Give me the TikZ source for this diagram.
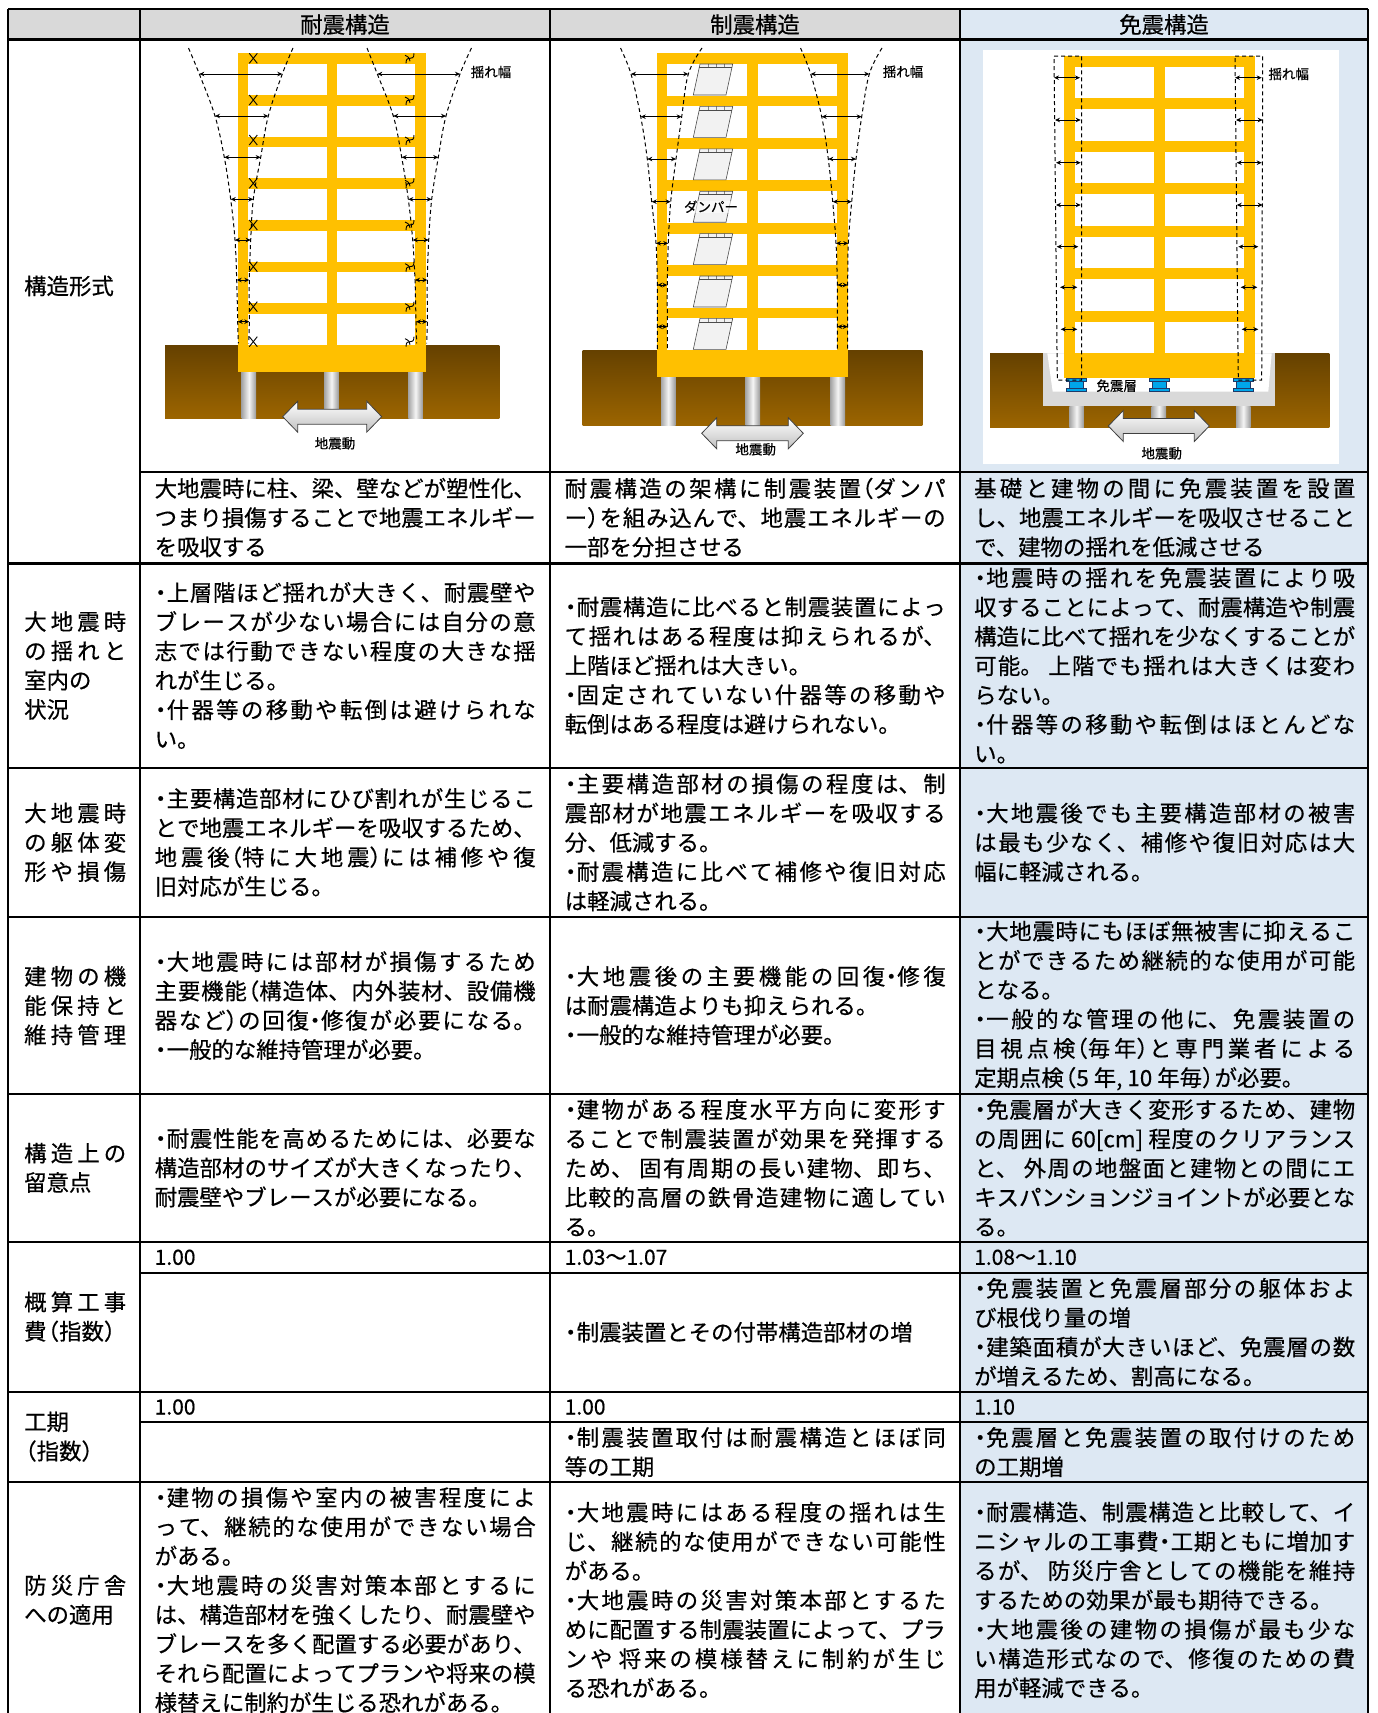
\documentclass[tikz,border=0pt]{standalone}
\usepackage{fontspec}
\setmainfont{Noto Sans CJK JP}[FakeBold=0.5]
\usetikzlibrary{arrows.meta}
\XeTeXlinebreaklocale "ja"
\XeTeXlinebreakskip=0pt plus 6pt minus 0.4pt
\definecolor{hdr}{HTML}{D9D9D9}
\definecolor{bluecol}{HTML}{DDE8F3}
\definecolor{ylw}{HTML}{FFC000}
\definecolor{brtop}{HTML}{654100}
\definecolor{brbot}{HTML}{9C6500}
\definecolor{isob}{HTML}{00A6EA}
\definecolor{ison}{HTML}{1F3A68}
\definecolor{pitgray}{HTML}{D9D9D9}
\newcommand{\jbr}{\linebreak}
\newcommand{\bul}{\makebox[12pt][c]{・}}
\newcommand{\lpar}{\makebox[12.5pt][r]{（}}
\newcommand{\rpar}{\makebox[12.5pt][l]{）}}
\newcommand{\spfour}[4]{\makebox[102pt][s]{#1\hfill#2\hfill#3\hfill#4}}
% building frame: #1 L, #2 R, #3 top, #4 slab top, #5 slab bottom, #6 centre column left
\newcommand{\frameb}[6]{%
  \fill[ylw] (#1,#3) rectangle (#2,#5);
  \pgfmathsetmacro{\pp}{(#4-#3)/7}%
  \foreach \k in {0,...,6}{%
    \pgfmathsetmacro{\wt}{#3+\k*\pp+10.7}%
    \pgfmathsetmacro{\wb}{#3+(\k+1)*\pp}%
    \fill[white] ({#1+10.7},\wt) rectangle (#6,\wb);
    \fill[white] ({#6+10.7},\wt) rectangle ({#2-10.7},\wb);
  }%
}
% big double arrow: #1 left x, #2 right x, #3 centre y
\newcommand{\bigarrow}[3]{%
  \shade[top color=white, bottom color=gray!50, draw=black!75, line width=0.8pt]
   (#1,#3) -- ({#1+15},{#3-15.5}) -- ({#1+15},{#3-7.5}) -- ({#2-15},{#3-7.5})
   -- ({#2-15},{#3-15.5}) -- (#2,#3) -- ({#2-15},{#3+15.5}) -- ({#2-15},{#3+7.5})
   -- ({#1+15},{#3+7.5}) -- ({#1+15},{#3+15.5}) -- cycle;
}
\newcommand{\pile}[3]{% x, top, bottom
  \shade[left color=gray!70, right color=gray!80, middle color=gray!8] (#1,#2) rectangle ({#1+14.5},#3);
}
\newcommand{\crkL}[2]{\begin{scope}[shift={(#1,#2)}]
  \draw[crack] (-4,-5) .. controls (0,0) .. (4,5);
  \draw[crack] (4,-5) .. controls (0,0) .. (-4,5);\end{scope}}
\newcommand{\crkR}[2]{\begin{scope}[shift={(#1,#2)}]
  \draw[crack] (-4,5) .. controls (-4,-5) and (4,5) .. (4,-5);
  \draw[crack] (-5,-3) .. controls (-1,-1) .. (0,3);\end{scope}}
\newcommand{\isol}[1]{%
  \filldraw[fill=isob, draw=ison, line width=0.7pt] (#1,378.3) rectangle ({#1+20},381.8);
  \filldraw[fill=isob, draw=ison, line width=0.7pt] ({#1+3},381.8) rectangle ({#1+17},388.3);
  \filldraw[fill=isob, draw=ison, line width=0.7pt] (#1,388.3) rectangle ({#1+20},391.7);
}
\begin{document}
\begin{tikzpicture}[x=1pt, y=-1pt,
  grid/.style={line width=2.2pt, black},
  cell/.style={anchor=west, inner sep=0pt, text width=381pt, align=justify, font={\fontsize{22.4pt}{29.3pt}\selectfont}},
  lab/.style={anchor=west, inner sep=0pt, align=left, font={\fontsize{22.4pt}{29.3pt}\selectfont}},
  hd/.style={inner sep=0pt, font={\fontsize{22.4pt}{26pt}\selectfont}},
  val/.style={anchor=west, inner sep=0pt, font={\fontsize{21pt}{26pt}\selectfont}},
  small/.style={inner sep=0pt, font={\fontsize{13.5pt}{15pt}\selectfont}},
  env/.style={dashed, dash pattern=on 4pt off 3pt, line width=1pt},
  sway/.style={<->, >={Stealth[length=5pt,width=4.5pt]}, line width=1pt},
  crack/.style={line width=0.9pt},
  damper/.style={fill=gray!10, draw=black!70, line width=0.6pt}]
\useasboundingbox (0,0) rectangle (1378,1713);
\clip (0,0) rectangle (1378,1713);
\fill[white] (0,0) rectangle (1378,1713);
% ---------- table fills
\fill[hdr] (8,9) rectangle (960,39.5);
\fill[bluecol] (960,9) rectangle (1368,1720);
\fill[white] (982.7,50) rectangle (1339,464);

% ---------- picture 1 : 耐震構造
\shade[top color=brtop, bottom color=brbot] (165,345) rectangle (499.3,418.3);
\pile{241.7}{371.7}{418.3}\pile{324.3}{371.7}{418.3}\pile{408.3}{371.7}{418.3}
\frameb{237.7}{425.7}{53.3}{345}{371.7}{326.7}
\draw[env] plot[smooth, tension=0.6] coordinates {(188.5,48) (199.3,74) (215,116) (224.3,157.3) (230.7,199.3) (235,240) (236.7,280) (237.7,321.7) (238.3,343.3)};
\draw[env] plot[smooth, tension=0.6] coordinates {(293,48) (282.3,74) (268.3,116) (260.7,157.3) (253.3,199.3) (250.7,240) (249.3,280) (249.3,321.7) (248.7,343.3)};
\draw[env] plot[smooth, tension=0.6] coordinates {(367,48) (377.3,74) (393.3,116) (401.7,157.3) (408.3,199.3) (412.7,240) (415,280) (416,321.7) (416.7,343.3)};
\draw[env] plot[smooth, tension=0.6] coordinates {(471.5,48) (460,74) (446,116) (438.3,157.3) (431.7,199.3) (428.7,240) (427.3,280) (427.3,321.7) (426.7,343.3)};
\draw[sway] (199.3,74) -- (282.3,74);   \draw[sway] (377.3,74) -- (460,74);
\draw[sway] (215,116) -- (268.3,116);   \draw[sway] (393.3,116) -- (446,116);
\draw[sway] (224.3,157.3) -- (260.7,157.3); \draw[sway] (401.7,157.3) -- (438.3,157.3);
\draw[sway] (230.7,199.3) -- (253.3,199.3); \draw[sway] (408.3,199.3) -- (431.7,199.3);
\draw[sway] (235,240) -- (250.7,240);   \draw[sway] (412.7,240) -- (428.7,240);
\draw[sway] (236.7,280) -- (249.3,280); \draw[sway] (415,280) -- (427.3,280);
\draw[sway] (237.7,321.7) -- (249.3,321.7); \draw[sway] (416,321.7) -- (427.3,321.7);
\foreach \yy in {58.3,100,140,183.3,225,266.7,306.7,341.7}{\crkL{253.3}{\yy}\crkR{410}{\yy}}
\bigarrow{282.7}{381.7}{416.7}
\node[small] (p1w) at (491,72) {揺れ幅};
\node[small] (p1g) at (335,443.3) {地震動};

% ---------- picture 2 : 制震構造
\shade[top color=brtop, bottom color=brbot] (582.7,350) rectangle (922.3,425.7);
\pile{661}{376.7}{425.7}\pile{745.5}{376.7}{425.7}\pile{830.5}{376.7}{425.7}
\frameb{656.7}{847.7}{53.3}{350}{376.7}{747.3}
\foreach \k in {0,...,6}{%
  \pgfmathsetmacro{\dt}{64+\k*42.4}%
  \pgfmathsetmacro{\db}{\dt+31}%
  \filldraw[damper] (700,\dt) -- (732.7,\dt) -- (726,\db) -- (693.3,\db) -- cycle;
  \draw[black!70, line width=0.5pt] (699.3,{\dt+3.5}) -- (732,{\dt+3.5});
  \draw[black!70, line width=0.5pt] (708.5,\dt) -- (708.3,{\dt+3.5}) (716.5,\dt) -- (716.3,{\dt+3.5}) (724.5,\dt) -- (724.3,{\dt+3.5});
}
\draw[env] plot[smooth, tension=0.6] coordinates {(620.5,48) (631,74) (640.7,116.7) (647.3,159) (651.7,201.7) (656,243.3) (657.3,285) (657.3,326.7) (657.3,350)};
\draw[env] plot[smooth, tension=0.6] coordinates {(702,48) (688.3,74) (681.7,116.7) (676,159) (670.7,201.7) (668.3,243.3) (667.3,285) (667.3,326.7) (667.3,350)};
\draw[env] plot[smooth, tension=0.6] coordinates {(800.5,48) (810.7,74) (821.7,116.7) (828.3,159) (832.7,201.7) (836,243.3) (837.3,285) (837.3,326.7) (837.3,350)};
\draw[env] plot[smooth, tension=0.6] coordinates {(882,48) (869.3,74) (861.7,116.7) (856,159) (851.7,201.7) (848.3,243.3) (847.7,285) (847.7,326.7) (847.7,350)};
\draw[sway] (631,74) -- (688.3,74);       \draw[sway] (810.7,74) -- (869.3,74);
\draw[sway] (640.7,116.7) -- (681.7,116.7); \draw[sway] (821.7,116.7) -- (861.7,116.7);
\draw[sway] (647.3,159) -- (676,159);     \draw[sway] (828.3,159) -- (856,159);
\draw[sway] (651.7,201.7) -- (670.7,201.7); \draw[sway] (832.7,201.7) -- (851.7,201.7);
\draw[sway] (656,243.3) -- (668.3,243.3); \draw[sway] (836,243.3) -- (848.3,243.3);
\draw[sway] (657.3,285) -- (667.3,285);   \draw[sway] (837.3,285) -- (847.7,285);
\draw[sway] (657.3,326.7) -- (667.3,326.7); \draw[sway] (837.3,326.7) -- (847.7,326.7);
\bigarrow{701.7}{803.3}{433.3}
\node[small, fill=white, fill opacity=0.6, text opacity=1] (p2d) at (711,206.7) {ダンパー};
\node[small] (p2w) at (903,71.7) {揺れ幅};
\node[small] (p2g) at (755.7,449.3) {地震動};

% ---------- picture 3 : 免震構造
\shade[top color=brtop, bottom color=brbot] (990,353.3) rectangle (1329.3,427.7);
\pile{1069.3}{406}{427.7}\pile{1151.7}{406}{427.7}\pile{1236}{406}{427.7}
\fill[pitgray] (1043.3,353.3) rectangle (1275,406);
\fill[white] (1047.3,353.3) -- (1052.7,391.7) -- (1268.3,391.7) -- (1271.7,353.3) -- cycle;
\frameb{1064}{1255}{56}{353.3}{378.3}{1154}
\isol{1066}\isol{1149.3}\isol{1233.3}
\draw[env] (1054,56) -- (1081.7,56) -- (1081.7,380) -- (1057.3,380) -- cycle;
\draw[env] (1235,56) -- (1262.7,56) -- (1261.7,380) -- (1238.3,380) -- cycle;
\draw[sway] (1054,77.7) -- (1080,77.7);     \draw[sway] (1235,77.7) -- (1261.7,77.7);
\draw[sway] (1055,120) -- (1080.7,120);     \draw[sway] (1236,120) -- (1262.7,120);
\draw[sway] (1056,162.7) -- (1080.7,162.7); \draw[sway] (1236.7,162.7) -- (1261.7,162.7);
\draw[sway] (1056,205) -- (1080.7,205);     \draw[sway] (1236.7,205) -- (1262.7,205);
\draw[sway] (1056.7,246.7) -- (1078.3,246.7); \draw[sway] (1238.3,246.7) -- (1258.3,246.7);
\draw[sway] (1060,287.3) -- (1077.3,287.3); \draw[sway] (1240.7,287.3) -- (1257.3,287.3);
\draw[sway] (1060.7,329.3) -- (1077.3,329.3); \draw[sway] (1241.7,329.3) -- (1258.3,329.3);
\bigarrow{1108.3}{1209.3}{426}
\node[small] (p3m) at (1116.7,385.7) {免震層};
\node[small] (p3w) at (1288.7,74) {揺れ幅};
\node[small] (p3g) at (1161.7,453.3) {地震動};

% ---------- grid lines
\draw[grid] (8,9) -- (1368,9);
\draw[grid] (8,39.5) -- (1368,39.5);
\draw[grid] (140,471.7) -- (1368,471.7);
\foreach \yy in {563.4,767.6,917.2,1094,1241.8,1391.8,1482}{\draw[grid] (8,\yy) -- (1368,\yy);}
\draw[grid] (140,1272.7) -- (1368,1272.7);
\draw[grid] (140,1422.2) -- (1368,1422.2);
\foreach \xx in {8,140,550,960,1368}{\draw[grid] (\xx,9) -- (\xx,1720);}

% ---------- header
\node[hd] (h1) at (345,24.5) {耐震構造};
\node[hd] (h2) at (755,24.5) {制震構造};
\node[hd] (h3) at (1164,24.5) {免震構造};

% ---------- row labels
\node[lab] (l1) at (24,286) {構造形式};
\node[lab] (l2) at (24,665.5) {\spfour{大}{地}{震}{時}\\\spfour{の}{揺}{れ}{と}\\室内の\\状況};
\node[lab] (l3) at (24,842.4) {\spfour{大}{地}{震}{時}\\\spfour{の}{躯}{体}{変}\\\spfour{形}{や}{損}{傷}};
\node[lab] (l4) at (24,1005.6) {\spfour{建}{物}{の}{機}\\\spfour{能}{保}{持}{と}\\\spfour{維}{持}{管}{理}};
\node[lab] (l5) at (24,1167.8) {\spfour{構}{造}{上}{の}\\留意点};
\node[lab] (l6) at (24,1316.7) {\spfour{概}{算}{工}{事}\\費\lpar 指数\rpar};
\node[lab] (l7) at (24,1436.7) {工期\\\lpar 指数\rpar};
\node[lab] (l8) at (24,1600) {\spfour{防}{災}{庁}{舎}\\への適用};

% ---------- row 1 text
\node[cell] (a1) at (154.5,517.6) {大地震時に柱、梁、壁などが塑性化、\jbr つまり損傷することで地震エネルギー\jbr を吸収する};
\node[cell] (b1) at (564.5,517.6) {耐震構造の架構に制震装置\lpar ダンパ\jbr ー\rpar を組み込んで、地震エネルギーの\jbr 一部を分担させる};
\node[cell] (c1) at (974,517.6) {基礎と建物の間に免震装置を設置\jbr し、地震エネルギーを吸収させること\jbr で、建物の揺れを低減させる};

% ---------- row 2
\node[cell] (a2) at (154.5,665.5) {\bul 上層階ほど揺れが大きく、耐震壁や\jbr ブレースが少ない場合には自分の意\jbr 志では行動できない程度の大きな揺\jbr れが生じる。\par \bul 什器等の移動や転倒は避けられな\jbr い。};
\node[cell] (b2) at (564.5,665.5) {\bul 耐震構造に比べると制震装置によっ\jbr て揺れはある程度は抑えられるが、\jbr 上階ほど揺れは大きい。\par \bul 固定されていない什器等の移動や\jbr 転倒はある程度は避けられない。};
\node[cell] (c2) at (974,665.5) {\bul 地震時の揺れを免震装置により吸\jbr 収することによって、耐震構造や制震\jbr 構造に比べて揺れを少なくすることが\jbr 可能。 上階でも揺れは大きくは変わ\jbr らない。\par \bul 什器等の移動や転倒はほとんどな\jbr い。};

% ---------- row 3
\node[cell] (a3) at (154.5,842.4) {\bul 主要構造部材にひび割れが生じるこ\jbr とで地震エネルギーを吸収するため、\jbr 地震後\lpar 特に大地震\rpar には補修や復\jbr 旧対応が生じる。};
\node[cell] (b3) at (564.5,842.4) {\bul 主要構造部材の損傷の程度は、制\jbr 震部材が地震エネルギーを吸収する\jbr 分、低減する。\par \bul 耐震構造に比べて補修や復旧対応\jbr は軽減される。};
\node[cell] (c3) at (974,842.4) {\bul 大地震後でも主要構造部材の被害\jbr は最も少なく、補修や復旧対応は大\jbr 幅に軽減される。};

% ---------- row 4
\node[cell] (a4) at (154.5,1005.6) {\bul 大地震時には部材が損傷するため\jbr 主要機能\lpar 構造体、内外装材、設備機\jbr 器など\rpar の回復\bul 修復が必要になる。\jbr \bul 一般的な維持管理が必要。};
\node[cell] (b4) at (564.5,1005.6) {\bul 大地震後の主要機能の回復\bul 修復\jbr は耐震構造よりも抑えられる。\par \bul 一般的な維持管理が必要。};
\node[cell] (c4) at (974,1005.6) {\bul 大地震時にもほぼ無被害に抑えるこ\jbr とができるため継続的な使用が可能\jbr となる。\par \bul 一般的な管理の他に、免震装置の\jbr 目視点検\lpar 毎年\rpar と専門業者による\jbr 定期点検\lpar 5 年, 10 年毎\rpar が必要。};

% ---------- row 5
\node[cell] (a5) at (154.5,1167.8) {\bul 耐震性能を高めるためには、必要な\jbr 構造部材のサイズが大きくなったり、\jbr 耐震壁やブレースが必要になる。};
\node[cell] (b5) at (564.5,1167.8) {\bul 建物がある程度水平方向に変形す\jbr ることで制震装置が効果を発揮する\jbr ため、 固有周期の長い建物、即ち、\jbr 比較的高層の鉄骨造建物に適してい\jbr る。};
\node[cell] (c5) at (974,1167.8) {\bul 免震層が大きく変形するため、建物\jbr の周囲に 60[cm] 程度のクリアランス\jbr と、 外周の地盤面と建物との間にエ\jbr キスパンションジョイントが必要とな\jbr る。};

% ---------- row 6
\node[val] (a6v) at (154.5,1257.3) {1.00};
\node[val] (b6v) at (564.5,1257.3) {1.03～1.07};
\node[val] (c6v) at (974,1257.3) {1.08～1.10};
\node[cell] (b6) at (564.5,1332.2) {\bul 制震装置とその付帯構造部材の増};
\node[cell] (c6) at (974,1332.2) {\bul 免震装置と免震層部分の躯体およ\jbr び根伐り量の増\par \bul 建築面積が大きいほど、免震層の数\jbr が増えるため、割高になる。};

% ---------- row 7
\node[val] (a7v) at (154.5,1407) {1.00};
\node[val] (b7v) at (564.5,1407) {1.00};
\node[val] (c7v) at (974,1407) {1.10};
\node[cell] (b7) at (564.5,1452.1) {\bul 制震装置取付は耐震構造とほぼ同\jbr 等の工期};
\node[cell] (c7) at (974,1452.1) {\bul 免震層と免震装置の取付けのため\jbr の工期増};

% ---------- row 8
\node[cell] (a8) at (154.5,1600) {\bul 建物の損傷や室内の被害程度によ\jbr って、継続的な使用ができない場合\jbr がある。\par \bul 大地震時の災害対策本部とするに\jbr は、構造部材を強くしたり、耐震壁や\jbr ブレースを多く配置する必要があり、\jbr それら配置によってプランや将来の模\jbr 様替えに制約が生じる恐れがある。};
\node[cell] (b8) at (564.5,1600) {\bul 大地震時にはある程度の揺れは生\jbr じ、継続的な使用ができない可能性\jbr がある。\par \bul 大地震時の災害対策本部とするた\jbr めに配置する制震装置によって、プラ\jbr ンや 将来の模様替えに制約が生じ\jbr る恐れがある。};
\node[cell] (c8) at (974,1600) {\bul 耐震構造、制震構造と比較して、イ\jbr ニシャルの工事費\bul 工期ともに増加す\jbr るが、 防災庁舎としての機能を維持\jbr するための効果が最も期待できる。\par \bul 大地震後の建物の損傷が最も少な\jbr い構造形式なので、修復のための費\jbr 用が軽減できる。};
\end{tikzpicture}
\end{document}
